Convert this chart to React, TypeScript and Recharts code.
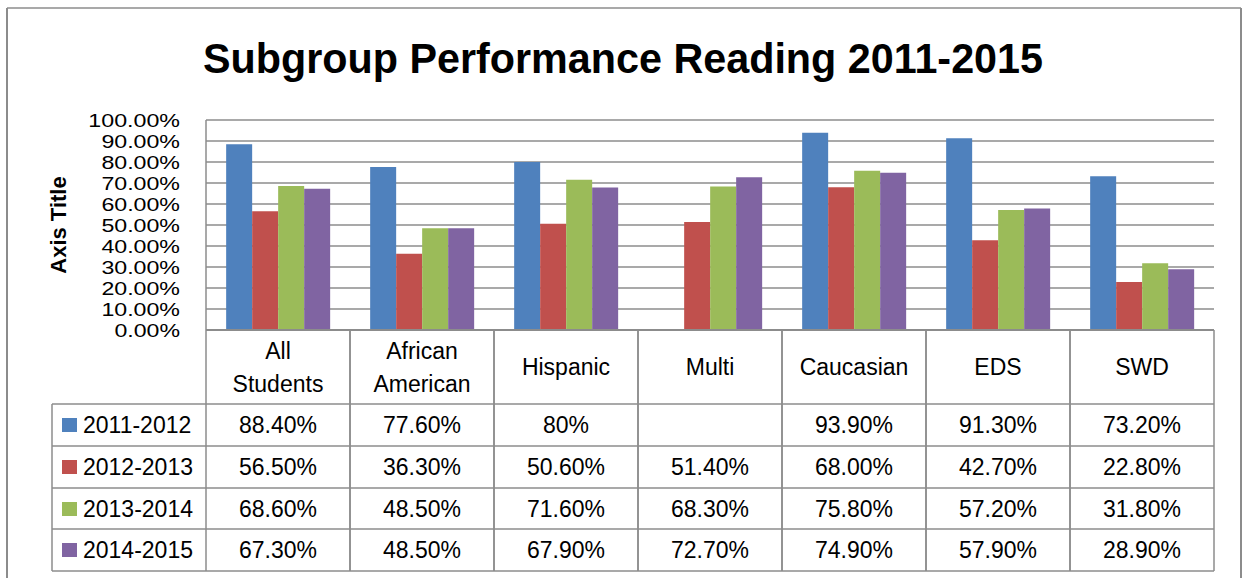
import { Bar, BarChart, CartesianGrid, XAxis, YAxis } from "recharts";

const FONT = "'Liberation Sans', Arial, sans-serif";
const GRID = "#8c8c8c";

const CATEGORIES = ["All Students", "African American", "Hispanic", "Multi", "Caucasian", "EDS", "SWD"];
const SERIES = ["2011-2012", "2012-2013", "2013-2014", "2014-2015"];
const COLORS = ["#4f81bd", "#c0504d", "#9bbb59", "#8064a2"];

const VALUES_2011 = [88.4, 77.6, 80, null, 93.9, 91.3, 73.2];
const VALUES_2012 = [56.5, 36.3, 50.6, 51.4, 68.0, 42.7, 22.8];
const VALUES_2013 = [68.6, 48.5, 71.6, 68.3, 75.8, 57.2, 31.8];
const VALUES_2014 = [67.3, 48.5, 67.9, 72.7, 74.9, 57.9, 28.9];

// data table text, as the source sheet shows it
const TEXT_2011 = ["88.40%", "77.60%", "80%", "", "93.90%", "91.30%", "73.20%"];
const TEXT_2012 = ["56.50%", "36.30%", "50.60%", "51.40%", "68.00%", "42.70%", "22.80%"];
const TEXT_2013 = ["68.60%", "48.50%", "71.60%", "68.30%", "75.80%", "57.20%", "31.80%"];
const TEXT_2014 = ["67.30%", "48.50%", "67.90%", "72.70%", "74.90%", "57.90%", "28.90%"];

const Y_TICKS = [0, 10, 20, 30, 40, 50, 60, 70, 80, 90, 100];

const VALUES = [VALUES_2011, VALUES_2012, VALUES_2013, VALUES_2014];
const TEXTS = [TEXT_2011, TEXT_2012, TEXT_2013, TEXT_2014];

const data = CATEGORIES.map((name, i) => {
  const row: Record<string, string | number | null> = { name };
  SERIES.forEach((s, k) => {
    row[s] = VALUES[k][i];
  });
  return row;
});

const BAND = 144;
const ROW_TOP = [404, 446, 488, 529];
const ROW_BOTTOM = 571;

const CategoryTick = (props: any) => {
  const { x, y, payload } = props;
  const i = CATEGORIES.indexOf(payload.value);
  const lines = String(payload.value).split(" ");
  return (
    <g>
      <line x1={x - BAND / 2} x2={x - BAND / 2} y1={y} y2={ROW_BOTTOM} stroke={GRID} strokeWidth={1.5} />
      <line x1={x + BAND / 2} x2={x + BAND / 2} y1={y} y2={ROW_BOTTOM} stroke={GRID} strokeWidth={1.5} />
      {lines.length > 1 ? (
        lines.map((l, j) => (
          <text key={l} x={x} y={y + 29 + j * 33} textAnchor="middle" fontSize={23} fontFamily={FONT} fill="#000">
            {l}
          </text>
        ))
      ) : (
        <text x={x} y={y + 45} textAnchor="middle" fontSize={23} fontFamily={FONT} fill="#000">
          {lines[0]}
        </text>
      )}
      {TEXTS.map((t, k) => (
        <text key={k} x={x} y={ROW_TOP[k] + 29} textAnchor="middle" fontSize={23} fontFamily={FONT} fill="#000">
          {t[i]}
        </text>
      ))}
    </g>
  );
};

const PercentTick = (props: any) => {
  const { x, y, payload } = props;
  const label = `${Number(payload.value).toFixed(2)}%`;
  return (
    <text
      x={x}
      y={y + 7}
      textAnchor="end"
      fontSize={19}
      fontFamily={FONT}
      fill="#000"
      textLength={label.length * 13.1}
      lengthAdjust="spacingAndGlyphs"
    >
      {label}
    </text>
  );
};

const App = () => {
  return (
    <div style={{ position: "absolute", left: 0, top: 0, width: 1244, height: 578, background: "#fff", overflow: "hidden" }}>
      <svg width={1244} height={578} style={{ position: "absolute", left: 0, top: 0 }}>
        <line x1={7} x2={7} y1={8} y2={578} stroke={GRID} strokeWidth={2} />
        <line x1={7} x2={1241} y1={8} y2={8} stroke={GRID} strokeWidth={1.5} />
        <line x1={1241} x2={1241} y1={8} y2={578} stroke={GRID} strokeWidth={2} />
        <text x={623} y={73} textAnchor="middle" fontSize={42} fontWeight="bold" fontFamily={FONT} textLength={840} lengthAdjust="spacingAndGlyphs">
          Subgroup Performance Reading 2011-2015
        </text>
        <text x={66} y={225} textAnchor="middle" fontSize={22} fontWeight="bold" fontFamily={FONT} transform="rotate(-90 66 225)">
          Axis Title
        </text>
        {[...ROW_TOP, ROW_BOTTOM].map((y) => (
          <line key={y} x1={52} x2={1214} y1={y} y2={y} stroke={GRID} strokeWidth={1.5} />
        ))}
        <line x1={52} x2={52} y1={404} y2={ROW_BOTTOM} stroke={GRID} strokeWidth={1.5} />
        {SERIES.map((s, k) => (
          <g key={s}>
            <rect x={62} y={ROW_TOP[k] + 14} width={15} height={14} fill={COLORS[k]} />
            <text x={83} y={ROW_TOP[k] + 29} fontSize={23} fontFamily={FONT} fill="#000">
              {s}
            </text>
          </g>
        ))}
      </svg>
      <div style={{ position: "absolute", left: 0, top: 0 }}>
        <BarChart
          width={1244}
          height={578}
          data={data}
          margin={{ top: 120, right: 30, bottom: 174, left: 0 }}
          barCategoryGap="14%"
          barGap={0}
        >
          <CartesianGrid vertical={false} stroke={GRID} strokeWidth={1.5} />
          <XAxis
            dataKey="name"
            height={74}
            interval={0}
            tickLine={false}
            tickSize={0}
            tickMargin={0}
            axisLine={{ stroke: GRID, strokeWidth: 2 }}
            tick={<CategoryTick />}
          />
          <YAxis
            width={206}
            domain={[0, 100]}
            ticks={Y_TICKS}
            interval={0}
            tickLine={false}
            tickSize={0}
            tickMargin={26}
            axisLine={{ stroke: GRID, strokeWidth: 1.5 }}
            tick={<PercentTick />}
          />
          {SERIES.map((s, k) => (
            <Bar key={s} dataKey={s} fill={COLORS[k]} isAnimationActive={false} />
          ))}
        </BarChart>
      </div>
    </div>
  );
};

export default App;
